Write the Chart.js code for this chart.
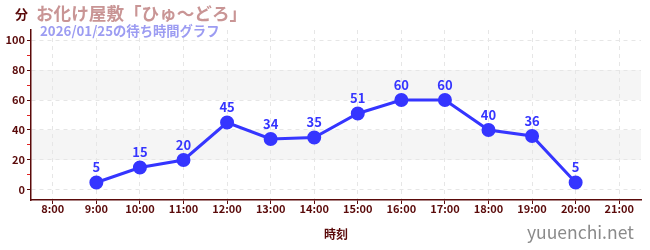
<!DOCTYPE html>
<html><head><meta charset="utf-8">
<script src="https://cdn.jsdelivr.net/npm/chart.js@4"></script>
<style>
html,body{margin:0;padding:0;background:#fff;}
#wrap{position:relative;width:650px;height:250px;font-family:"Noto Sans CJK JP","Noto Sans",sans-serif;}
canvas{position:absolute;left:0;top:0;}
.t{position:absolute;white-space:nowrap;font-weight:bold;}
</style></head><body>
<div id="wrap">
<canvas id="c" width="650" height="250"></canvas>
<div class="t" style="left:15px;top:4px;font-size:13px;color:#5a0a0a;">分</div>
<div class="t" style="left:36px;top:0px;font-size:17.6px;color:#c99595;">お化け屋敷「ひゅ〜どろ」</div>
<div class="t" style="left:40px;top:21px;font-size:13.3px;color:#9c9cf2;">2026/01/25の待ち時間グラフ</div>
<div class="t" style="left:527px;top:219px;font-size:17.5px;color:#8a8a8a;font-weight:normal;">yuuenchi.net</div>
</div>
<script>
const categories = ["8:00","9:00","10:00","11:00","12:00","13:00","14:00","15:00","16:00","17:00","18:00","19:00","20:00","21:00"];
const waitTimes = [null,5,15,20,45,34,35,51,60,60,40,36,5,null];
const yTickValues = [0,10,20,30,40,50,60,70,80,90,100];
const bands = [[20,40],[60,80]];

const axisColor = '#5a0a0a';
const lineColor = '#3535ff';

const bandPlugin = {
  id:'bands',
  beforeDraw(chart){
    const {ctx, chartArea:a, scales:{y}} = chart;
    ctx.save();
    ctx.fillStyle = '#f5f5f5';
    bands.forEach(([lo,hi])=>{
      const t = y.getPixelForValue(hi), b = y.getPixelForValue(lo);
      ctx.fillRect(a.left, t, a.right-a.left, b-t);
    });
    ctx.restore();
  }
};
const labelPlugin = {
  id:'labels',
  afterDatasetsDraw(chart){
    const {ctx} = chart;
    const meta = chart.getDatasetMeta(0);
    ctx.save();
    ctx.fillStyle = lineColor;
    ctx.font = 'bold 13px "Noto Sans CJK JP", "Noto Sans", sans-serif';
    ctx.textAlign = 'center';
    ctx.textBaseline = 'middle';
    meta.data.forEach((p,i)=>{
      const v = waitTimes[i];
      if (v===null || p.skip) return;
      ctx.fillText(String(v), p.x, p.y-15);
    });
    ctx.restore();
  }
};

new Chart(document.getElementById('c'), {
  type:'line',
  data:{labels:categories, datasets:[{
    data:waitTimes, borderColor:lineColor, backgroundColor:lineColor,
    borderWidth:3, pointRadius:5.5, pointHoverRadius:5.5, tension:0, spanGaps:false
  }]},
  options:{
    responsive:false, animation:false, devicePixelRatio:1,
    layout:{padding:{top:30,right:9,left:0,bottom:0}},
    plugins:{legend:{display:false}, tooltip:{enabled:false}},
    scales:{
      x:{
        offset:true,
        grid:{color:'#e6e6e6', lineWidth:1, drawTicks:true, tickLength:4, tickColor:axisColor, offset:false},
        border:{color:axisColor, width:1.5, dash:[4,4]},
        ticks:{color:axisColor, font:{size:11, family:'"Noto Sans CJK JP"', weight:'bold'}, padding:-2, maxRotation:0, autoSkip:false},
        title:{display:true, text:'時刻', color:axisColor, font:{size:12, family:'"Noto Sans CJK JP"', weight:'bold'}, padding:{top:0,bottom:8}},
        afterFit(s){ s.height = 50; }
      },
      y:{
        min:-6.67, max:106.67,
        afterBuildTicks(s){ s.ticks = yTickValues.map(v=>({value:v})); },
        grid:{
          color:(c)=> (c.tick && c.tick.value%20===0) ? '#e6e6e6' : 'rgba(0,0,0,0)',
          tickColor:(c)=> (c.tick && c.tick.value%20===0) ? axisColor : '#e02020',
          tickLength:4, lineWidth:1
        },
        border:{color:axisColor, width:1.5, dash:[4,4]},
        ticks:{color:axisColor, font:{size:11, family:'"Noto Sans CJK JP"', weight:'bold'}, padding:2, autoSkip:false,
          callback:(v)=> v%20===0 ? String(v) : ''},
        afterFit(s){ s.width = 31; }
      }
    }
  },
  plugins:[bandPlugin, labelPlugin]
});
</script>
</body></html>
